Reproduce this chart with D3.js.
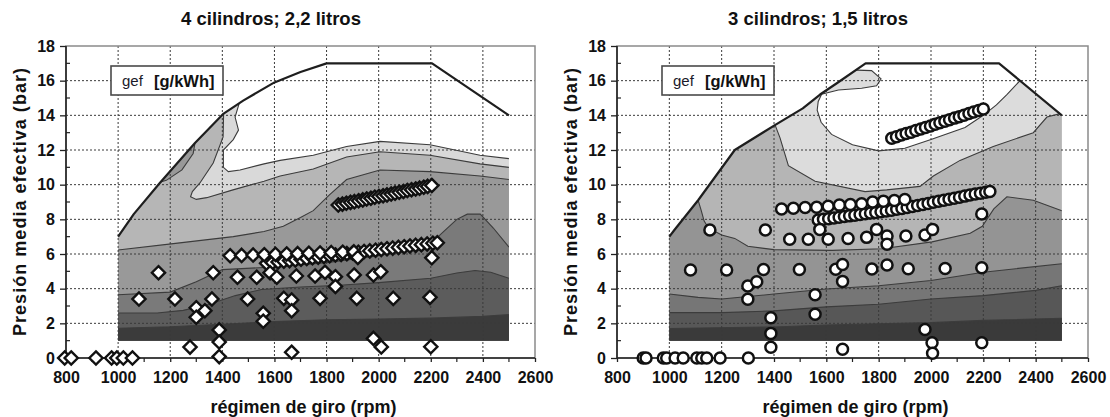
<!DOCTYPE html>
<html><head><meta charset="utf-8">
<script src="https://cdn.jsdelivr.net/npm/d3@7"></script>
<style>
body{margin:0;background:#fff;}
text{font-family:"Liberation Sans",Arial,sans-serif;}
</style>
</head><body>
<svg id="c" width="1110" height="417"></svg>
<script>
// ---------- text / ticks ----------
const panelTitles = ["4 cilindros; 2,2 litros", "3 cilindros; 1,5 litros"];
const xAxisTitle = "régimen de giro (rpm)";
const yAxisTitle = "Presión media efectiva (bar)";
const legendSymbol = "gef";
const legendUnit = "[g/kWh]";
const xTickVals = [800,1000,1200,1400,1600,1800,2000,2200,2400,2600];
const yTickVals = [0,2,4,6,8,10,12,14,16,18];
const xGridVals = [1000,1200,1400,1600,1800,2000,2200,2400];
const yGridVals = [2,4,6,8,10,12,14,16];

// ---------- LEFT: 4 cylinders, 2.2 l  ([rpm, bar]) ----------
const leftLoad = [[1000,7.0],[1060,8.3],[1160,10.1],[1295,12.4],[1405,14.1],[1480,14.85],[1600,15.9],[1700,16.5],[1800,17.0],[2205,17.0],[2500,14.0]];
const leftT1 = [[1465,14.7],[1449,13.9],[1462,13.15],[1442,12.6],[1404,12.0],[1404,11.0],[1423,10.75],[1468,10.85],[1560,11.2],[1622,11.4],[1749,11.7],[1877,12.2],[2005,12.5],[2197,12.3],[2389,11.7],[2500,11.5]];
const leftT2 = [[1405,14.2],[1403,12.75],[1365,11.25],[1314,10.1],[1285,9.6],[1278,9.3],[1300,9.15],[1340,9.25],[1441,9.7],[1560,10.2],[1622,10.5],[1749,10.9],[1877,11.6],[2005,11.9],[2197,11.7],[2389,11.2],[2500,11.0]];
const leftT3 = [[1000,6.23],[1212,6.6],[1442,7.0],[1560,7.3],[1634,7.6],[1700,8.1],[1749,8.5],[1810,9.4],[1877,10.3],[2005,10.85],[2197,10.75],[2389,10.5],[2500,10.3]];
const leftPocket = [[1140,10.9],[1290,13.2],[1295,12.4],[1288,11.8],[1245,10.85],[1185,10.25],[1150,10.1]];
const leftL3 = [[1000,3.65],[1200,3.8],[1300,4.4],[1400,5.1],[1600,5.25],[1800,5.5],[2000,5.9],[2100,6.2],[2200,6.6],[2250,7.3],[2300,8.0],[2340,8.3],[2390,8.3],[2440,7.5],[2500,6.4]];
const leftL2 = [[1000,2.6],[1150,2.6],[1250,2.75],[1350,3.1],[1450,3.6],[1550,3.95],[1700,4.1],[1850,4.2],[2000,4.35],[2200,4.6],[2300,4.9],[2370,5.05],[2430,4.95],[2500,4.6]];
const leftL1 = [[1000,1.72],[1200,1.8],[1400,1.95],[1600,2.1],[1800,2.2],[2000,2.25],[2200,2.3],[2400,2.4],[2500,2.5]];

const leftDiamonds = [[795,0],[820,0],[915,0],[975,0],[995,0],[1020,0],[1055,0],
 [1080,3.4],[1155,4.92],[1218,3.4],[1276,0.63],[1300,2.9],[1333,2.73],[1300,2.35],[1360,3.4],[1365,4.92],[1388,1.62],[1388,0.92],[1388,0.08],
 [1458,4.66],[1497,3.4],[1532,4.66],[1557,2.58],[1557,2.12],[1583,4.92],[1609,4.66],[1636,3.44],[1666,3.35],[1666,2.73],[1666,0.33],[1684,4.73],[1756,4.73],[1775,3.44],[1794,4.95],[1834,4.69],[1834,4.13],[1906,4.79],[1916,3.44],[1920,5.8],[1980,4.79],[1980,1.13],[2008,4.98],[2010,0.64],[2056,3.44],[2197,3.5],[2200,0.65],[2204,5.78]];
const leftRow6 = [[1430,5.9],[1474,5.92],[1518,5.94],[1561,5.96],[1604,5.98],[1647,6.0],[1689,6.02],[1732,6.04],[1775,6.06],[1818,6.08],[1862,6.1],[1905,6.12]];
const leftDenseLow = [[1570,5.46],[1592,5.5],[1614,5.54],[1636,5.58],[1658,5.62],[1680,5.66],[1702,5.7],[1724,5.74],[1746,5.78],[1768,5.82],[1790,5.86],[1812,5.9],[1834,5.94],[1856,5.98],[1878,6.02],[1900,6.06],[1922,6.1],[1944,6.14],[1966,6.18],[1988,6.22],[2010,6.26],[2032,6.3],[2054,6.34],[2076,6.38],[2098,6.42],[2120,6.46],[2142,6.5],[2164,6.54],[2186,6.58],[2208,6.62],[2225,6.65]];
const leftDenseHigh = [[1845,8.83],[1861,8.88],[1876,8.93],[1892,8.98],[1907,9.02],[1923,9.07],[1939,9.12],[1954,9.17],[1970,9.22],[1985,9.27],[2001,9.32],[2017,9.36],[2032,9.41],[2048,9.46],[2063,9.51],[2079,9.56],[2095,9.61],[2110,9.66],[2126,9.71],[2142,9.75],[2157,9.8],[2173,9.85],[2188,9.9],[2204,9.95]];

// ---------- RIGHT: 3 cylinders, 1.5 l ----------
const rightLoad = [[1000,7.0],[1020,7.4],[1110,9.1],[1250,12.0],[1405,13.45],[1510,14.4],[1576,15.2],[1640,15.85],[1750,17.0],[2260,17.0],[2500,14.0]];
const rightWhite = [[1809,16.1],[1792,15.7],[1735,15.56],[1646,15.46],[1582,15.22],[1569,14.8],[1565,14.3],[1580,13.6],[1620,12.9],[1700,12.3],[1800,11.95],[1900,12.1],[2000,12.6],[2130,13.3],[2200,14.0],[2250,14.6],[2290,15.2],[2340,16.0],[2360,18],[1690,18],[1690,16.62],[1773,16.58]];
const rightT3 = [[1404,13.45],[1423,12.7],[1455,11.1],[1557,10.2],[1748,9.6],[1831,9.7],[1958,9.9],[2009,10.5],[2111,11.4],[2238,12.2],[2391,13.0],[2443,13.9],[2494,14.1]];
const rightL4 = [[1110,9.1],[1122,8.5],[1133,7.9],[1150,7.5],[1200,7.1],[1250,6.9],[1300,6.45],[1400,6.25],[1622,6.21],[1813,6.3],[2004,6.7],[2150,7.2],[2196,7.6],[2240,8.6],[2290,9.3],[2391,9.1],[2500,8.5]];
const rightL3 = [[1000,3.69],[1110,3.5],[1200,3.4],[1400,3.69],[1600,3.98],[1800,4.17],[2000,4.47],[2200,4.95],[2500,5.44]];
const rightL2 = [[1000,2.62],[1200,2.62],[1400,2.72],[1600,2.95],[1800,3.1],[2000,3.4],[2200,3.6],[2400,3.9],[2500,4.17]];
const rightL1 = [[1000,1.7],[1400,1.79],[1600,1.9],[1800,1.98],[2000,2.04],[2200,2.17],[2500,2.29]];

const rightCircles = [[900,0],[911,0],[977,0],[990,0],[1022,0],[1053,0],[1105,0],[1124,0],[1143,0],[1194,0],[1302,0],
 [1081,5.08],[1155,7.39],[1219,5.08],[1300,4.15],[1334,4.4],[1300,3.39],[1360,5.1],[1367,7.39],[1388,2.32],[1388,1.42],[1388,0.62],
 [1460,6.85],[1497,5.1],[1531,6.85],[1557,3.65],[1557,2.52],[1575,7.42],[1607,6.85],[1636,5.12],[1662,5.4],[1662,4.42],[1662,0.5],[1683,6.9],[1754,6.96],[1774,5.14],[1792,7.42],[1832,7.04],[1832,6.56],[1832,5.37],[1904,7.04],[1913,5.15],[1977,7.1],[1977,1.65],[2006,7.42],[2004,0.88],[2006,0.27],[2054,5.16],[2194,8.31],[2194,5.21],[2194,0.88]];
const rightRow86 = [[1429,8.6],[1474,8.64],[1519,8.68],[1563,8.7],[1607,8.76],[1650,8.82],[1692,8.86],[1735,8.9],[1777,9.0],[1818,9.05],[1860,9.08],[1900,9.15]];
const rightDenseMid = [[1569,7.96],[1589,8.0],[1609,8.04],[1629,8.08],[1649,8.12],[1669,8.16],[1689,8.2],[1709,8.24],[1729,8.28],[1749,8.32],[1769,8.36],[1789,8.4],[1809,8.44],[1829,8.48],[1849,8.53],[1869,8.58],[1889,8.63],[1909,8.68],[1929,8.74],[1949,8.8],[1969,8.86],[1989,8.92],[2009,8.98],[2029,9.04],[2049,9.1],[2069,9.16],[2089,9.22],[2109,9.28],[2129,9.34],[2149,9.4],[2169,9.46],[2189,9.51],[2209,9.56],[2225,9.6]];
const rightDenseHigh = [[1850,12.68],[1868,12.77],[1887,12.86],[1905,12.95],[1924,13.03],[1942,13.12],[1961,13.21],[1979,13.3],[1998,13.39],[2016,13.48],[2034,13.57],[2053,13.66],[2071,13.75],[2090,13.84],[2108,13.92],[2126,14.01],[2145,14.1],[2163,14.19],[2182,14.28],[2200,14.37]];

// ---------- drawing ----------
const svg = d3.select("#c");
const defs = svg.append("defs");
const Y0 = 358, Y1 = 46;

function drawPanel(p, idx){
  const x = d3.scaleLinear().domain([800,2600]).range([p.px0, p.px1]);
  const y = d3.scaleLinear().domain([0,18]).range([Y0, Y1]);
  const line = d3.line().x(d=>x(d[0])).y(d=>y(d[1]));
  const g = svg.append("g");
  const clipPts = [[1000,1.0], ...p.load, [2500,1.0]];
  const cid = "clip"+idx;
  defs.append("clipPath").attr("id",cid).append("path").attr("d", line(clipPts)+"Z");
  const pcid = "pclip"+idx;
  defs.append("clipPath").attr("id",pcid).append("rect").attr("x",p.px0).attr("y",Y1).attr("width",p.px1-p.px0).attr("height",Y0-Y1);

  const sh = g.append("g").attr("clip-path", `url(#${cid})`);
  if (p.base) sh.append("path").attr("d", line(clipPts)+"Z").attr("fill", p.base);
  p.layers.forEach(L=>{
    let pts;
    if (L.type === "below") {
      const ln = L.pts, last = ln[ln.length-1];
      if (ln[0][0] <= 1000) pts = [[900,ln[0][1]], ...ln, [2600,last[1]], [2600,-1], [900,-1]];
      else pts = [[900,30],[ln[0][0],30], ...ln, [2600,last[1]], [2600,-1], [900,-1]];
    } else pts = L.pts;
    sh.append("path").attr("d", line(pts)+"Z").attr("fill", L.fill);
  });
  p.layers.forEach(L=>{
    sh.append("path").attr("d", line(L.pts)+(L.type==="poly"?"Z":""))
      .attr("fill","none").attr("stroke","#3c3c3c").attr("stroke-width",1.1);
  });

  // grid
  const gg = g.append("g").attr("clip-path", `url(#${pcid})`);
  gg.selectAll(".vx").data(xGridVals).enter().append("line")
    .attr("x1",d=>x(d)).attr("x2",d=>x(d)).attr("y1",Y1).attr("y2",Y0)
    .attr("stroke","#3a3a3a").attr("stroke-width",1).attr("stroke-dasharray","2,2");
  gg.selectAll(".hy").data(yGridVals).enter().append("line")
    .attr("y1",d=>y(d)).attr("y2",d=>y(d)).attr("x1",p.px0).attr("x2",p.px1)
    .attr("stroke","#3a3a3a").attr("stroke-width",1).attr("stroke-dasharray","2,2");

  // full load line
  g.append("path").attr("d", line(p.load)).attr("fill","none")
    .attr("stroke","#1e1e1e").attr("stroke-width",2.2).attr("stroke-linejoin","round");

  // frame
  g.append("rect").attr("x",p.px0).attr("y",Y1).attr("width",p.px1-p.px0).attr("height",Y0-Y1)
    .attr("fill","none").attr("stroke","#8a8a8a").attr("stroke-width",1.5);
  g.append("line").attr("x1",p.px0).attr("x2",p.px0).attr("y1",Y1).attr("y2",Y0).attr("stroke","#222").attr("stroke-width",1.6);
  g.append("line").attr("x1",p.px0).attr("x2",p.px1).attr("y1",Y0).attr("y2",Y0).attr("stroke","#222").attr("stroke-width",1.6);

  // ticks
  const yAxis = d3.axisLeft(y).tickValues(yTickVals).tickSize(6).tickPadding(5).tickFormat(d3.format("d"));
  const ya = g.append("g").attr("transform",`translate(${p.px0},0)`).call(yAxis);
  const xAxis = d3.axisBottom(x).tickValues(xTickVals).tickSize(4).tickPadding(7).tickFormat(d3.format("d"));
  const xa = g.append("g").attr("transform",`translate(0,${Y0})`).call(xAxis);
  [ya,xa].forEach(a=>{
    a.select(".domain").remove();
    a.selectAll("line").attr("stroke","#222").attr("stroke-width",1.3);
    a.selectAll("text").attr("font-size",16).attr("font-weight","bold").attr("fill","#111")
      .attr("font-family","Liberation Sans, Arial, sans-serif");
  });
  xa.selectAll("text").attr("dy","0.9em");
  const minorY = d3.range(1,18,2);
  g.selectAll(".my").data(minorY).enter().append("line")
    .attr("x1",p.px0).attr("x2",p.px0+4).attr("y1",d=>y(d)).attr("y2",d=>y(d)).attr("stroke","#222").attr("stroke-width",1.2);
  const minorX = d3.range(900,2600,200);
  g.selectAll(".mx").data(minorX).enter().append("line")
    .attr("y1",Y0).attr("y2",Y0+4).attr("x1",d=>x(d)).attr("x2",d=>x(d)).attr("stroke","#222").attr("stroke-width",1.2);

  // markers
  const mg = g.append("g");
  p.markerSets.forEach(set=>{
    if (p.marker === "diamond") {
      const s = 6.6;
      mg.selectAll(null).data(set).enter().append("path")
        .attr("d",`M0,${-s}L${s},0L0,${s}L${-s},0Z`)
        .attr("transform",d=>`translate(${x(d[0])},${y(d[1])})`)
        .attr("fill","#fff").attr("stroke","#111").attr("stroke-width",2.4).attr("stroke-linejoin","miter");
    } else {
      mg.selectAll(null).data(set).enter().append("circle")
        .attr("cx",d=>x(d[0])).attr("cy",d=>y(d[1])).attr("r",5.5)
        .attr("fill","#fff").attr("stroke","#111").attr("stroke-width",2.5);
    }
  });

  // legend box
  const lx = p.px0 + 45, ly = 66;
  g.append("rect").attr("x",lx).attr("y",ly).attr("width",112).attr("height",29)
    .attr("fill","#fff").attr("stroke","#4a4a4a").attr("stroke-width",1.6);
  g.append("text").attr("x",lx+11).attr("y",ly+20).attr("font-size",15).attr("fill","#1a1a2a").text(legendSymbol);
  g.append("text").attr("x",lx+43).attr("y",ly+21).attr("font-size",16.5).attr("font-weight","bold").attr("fill","#111").text(legendUnit);

  // titles
  svg.append("text").attr("x",p.titleX).attr("y",25).attr("text-anchor","middle")
    .style("font-size","18.5px").attr("font-weight","bold").attr("fill","#111").text(p.title);
  svg.append("text").attr("x",(p.px0+p.px1)/2+3).attr("y",413).attr("text-anchor","middle")
    .attr("font-size",18).attr("font-weight","bold").attr("fill","#111").text(xAxisTitle);
  svg.append("text").attr("transform",`translate(${p.px0-40},202) rotate(-90)`).attr("text-anchor","middle")
    .attr("font-size",18).attr("font-weight","bold").attr("fill","#111")
    .attr("textLength",268).attr("lengthAdjust","spacing").text(yAxisTitle);
}

drawPanel({
  px0:66, px1:535, load:leftLoad, base:null, marker:"diamond",
  title:panelTitles[0], titleX:271,
  layers:[
    {type:"below", pts:leftT1, fill:"#d9d9d9"},
    {type:"below", pts:leftT2, fill:"#b6b6b6"},
    {type:"below", pts:leftT3, fill:"#999999"},
    {type:"poly",  pts:leftPocket, fill:"#999999"},
    {type:"below", pts:leftL3, fill:"#7a7a7a"},
    {type:"below", pts:leftL2, fill:"#5c5c5c"},
    {type:"below", pts:leftL1, fill:"#3b3b3b"}
  ],
  markerSets:[leftDenseHigh, leftDenseLow, leftRow6, leftDiamonds]
},0);

drawPanel({
  px0:617, px1:1088, load:rightLoad, base:"#dcdcdc", marker:"circle",
  title:panelTitles[1], titleX:818,
  layers:[
    {type:"poly",  pts:rightWhite, fill:"#ffffff"},
    {type:"below", pts:rightT3, fill:"#b5b5b5"},
    {type:"below", pts:rightL4, fill:"#949494"},
    {type:"below", pts:rightL3, fill:"#767676"},
    {type:"below", pts:rightL2, fill:"#575757"},
    {type:"below", pts:rightL1, fill:"#3a3a3a"}
  ],
  markerSets:[rightDenseHigh, rightDenseMid, rightRow86, rightCircles]
},1);
</script>
</body></html>
